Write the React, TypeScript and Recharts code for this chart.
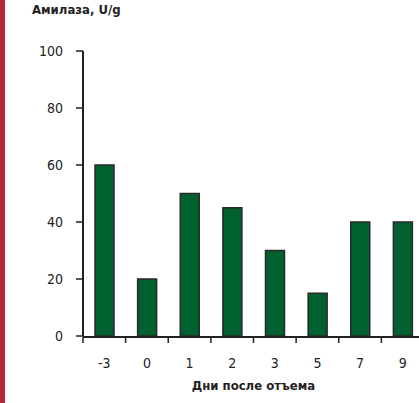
import React from "react"
import { BarChart, Bar, XAxis, YAxis } from "recharts"

const days = ["-3", "0", "1", "2", "3", "5", "7", "9"]
const amylase = [60, 20, 50, 45, 30, 15, 40, 40]
const yTicks = [0, 20, 40, 60, 80, 100]
const edgeTicks = [0, 1, 2, 3, 4, 5, 6, 7, 8]

const FONT = "'Liberation Sans Narrow', 'DejaVu Sans Condensed', 'Roboto', sans-serif"
const INK = "#222"

const data = days.map((d, i) => ({ day: d, value: amylase[i], pos: i + 0.5 }))

export default function App() {
  return (
    <div
      style={{
        position: "absolute",
        left: 0,
        top: 0,
        width: 419,
        height: 403,
        overflow: "hidden",
        background: "#fff",
        fontFamily: FONT,
      }}
    >
      <div style={{ position: "absolute", left: 0, top: 0, width: 5, height: 403, background: "#b02a37" }} />
      <div
        style={{
          position: "absolute",
          left: 32,
          top: 2,
          fontSize: 13,
          fontWeight: 700,
          color: INK,
        }}
      >
        Амилаза, U/g
      </div>
      <div style={{ position: "absolute", left: 0, top: 0 }}>
        <BarChart
          width={440}
          height={403}
          data={data}
          margin={{ top: 51, right: 16, bottom: 65, left: 23 }}
        >
          <XAxis
            xAxisId="edges"
            type="number"
            dataKey="pos"
            domain={[0, 8]}
            ticks={edgeTicks}
            tickFormatter={() => ""}
            tick={{ fontSize: 1 }}
            tickSize={6}
            height={1}
            axisLine={{ stroke: INK, strokeWidth: 2 }}
            tickLine={{ stroke: INK, strokeWidth: 1.5 }}
          />
          <XAxis
            xAxisId="cat"
            dataKey="day"
            height={1}
            axisLine={false}
            tickLine={false}
            tickSize={0}
            tickMargin={22}
            tick={{ fill: INK, fontSize: 14, fontFamily: FONT }}
            label={{
              value: "Дни после отъема",
              position: "bottom",
              offset: 44,
              fill: INK,
              fontSize: 13,
              fontWeight: 700,
              fontFamily: FONT,
            }}
          />
          <YAxis
            domain={[0, 100]}
            ticks={yTicks}
            width={60}
            tickSize={7}
            tickMargin={13}
            axisLine={{ stroke: INK, strokeWidth: 2 }}
            tickLine={{ stroke: INK, strokeWidth: 1.5 }}
            tick={{ fill: INK, fontSize: 14, fontFamily: FONT }}
          />
          <Bar
            xAxisId="cat"
            dataKey="value"
            barSize={19}
            fill="#00612f"
            stroke="#2a2a2a"
            strokeWidth={1.5}
            isAnimationActive={false}
          />
        </BarChart>
      </div>
    </div>
  )
}
